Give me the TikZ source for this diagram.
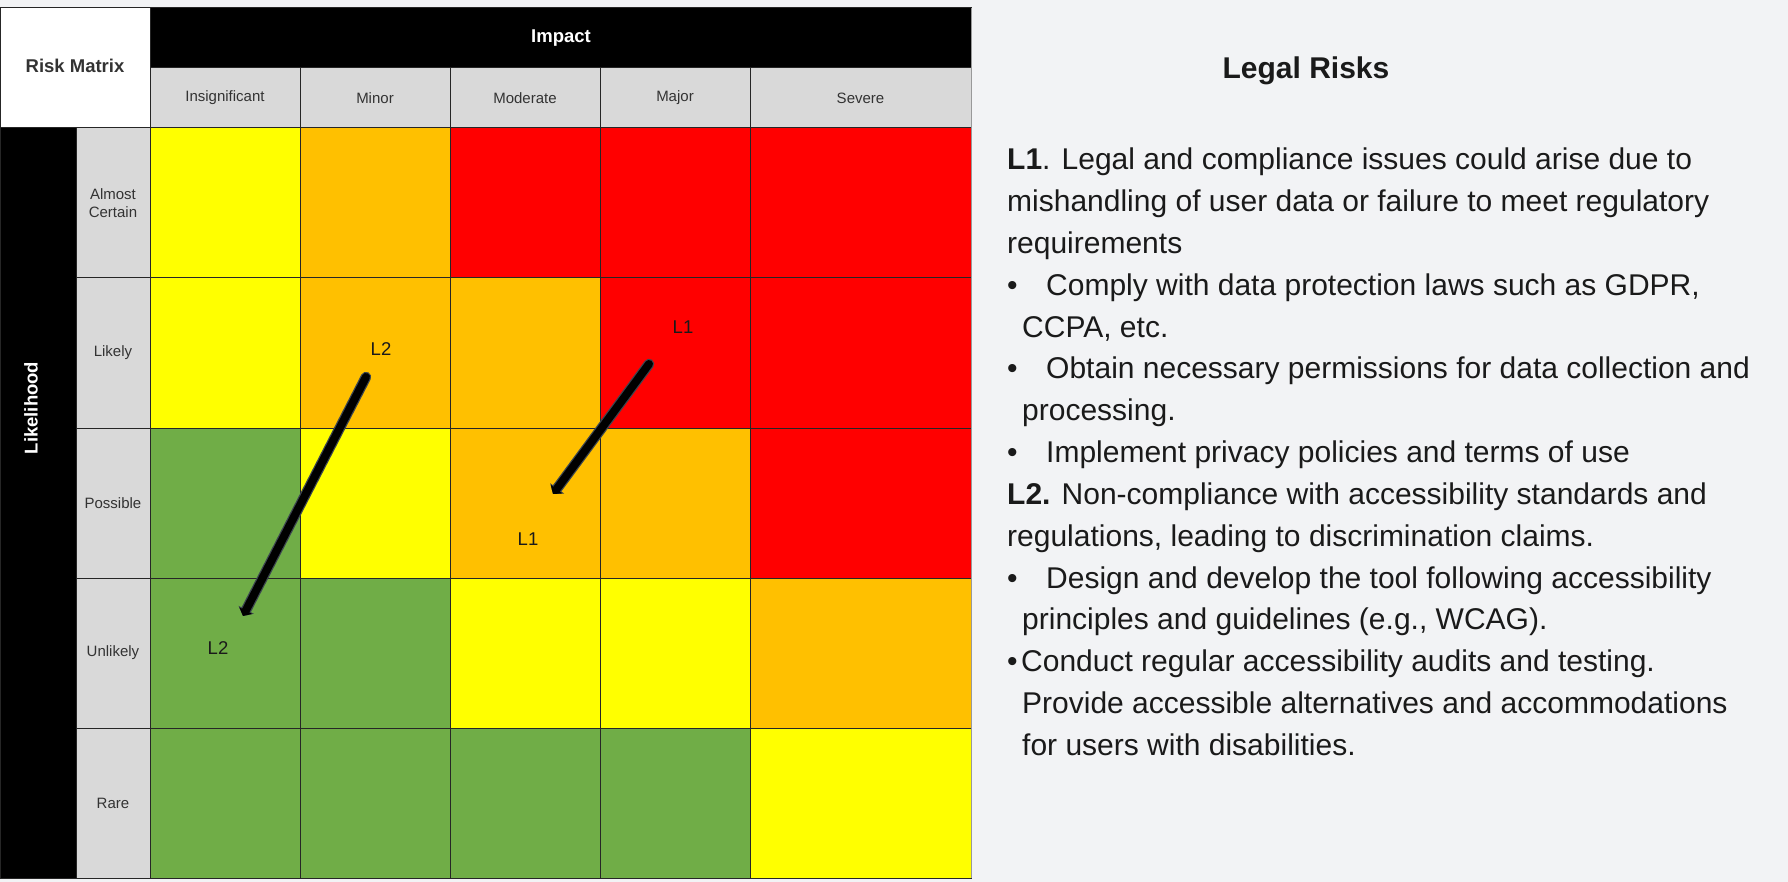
\documentclass[tikz,border=0pt]{standalone}
\usepackage{fontspec}
\setmainfont{Liberation Sans}
\usetikzlibrary{arrows.meta}
\definecolor{bg}{HTML}{F2F3F5}
\definecolor{cY}{HTML}{FFFF00}
\definecolor{cO}{HTML}{FFC000}
\definecolor{cR}{HTML}{FF0000}
\definecolor{cG}{HTML}{70AD47}
\definecolor{hdr}{HTML}{D9D9D9}
\definecolor{txt}{HTML}{1A1A1A}
\definecolor{lbl}{HTML}{333333}
\definecolor{gridc}{HTML}{262626}
\definecolor{arrowrim}{HTML}{3C4650}
\begin{document}
\begin{tikzpicture}[x=1pt,y=-1pt,
  cell/.style={draw=gridc, line width=1pt, inner sep=0pt, minimum height=150pt},
  hcell/.style={draw=gridc, line width=1pt, fill=hdr, inner sep=0pt, align=center,
     font=\fontsize{15}{18}\selectfont, text=lbl},
  blackbox/.style={draw=gridc, line width=1pt, fill=black, inner sep=0pt},
  risklbl/.style={inner sep=0pt, font=\fontsize{18.5}{22}\selectfont, text=txt},
  body/.style={anchor=base west, inner sep=0pt, font=\fontsize{30}{36}\selectfont, text=txt},
  riskarrow/.style={line width=8pt, black, line cap=round,
     -{Triangle[length=6pt,width=14pt]},
     preaction={draw=arrowrim, line width=10.5pt, line cap=round, -{Triangle[length=7pt,width=17pt]}}}
]
\useasboundingbox (0,0) rectangle (1788,882);
\fill[bg] (0,0) rectangle (1788,882);

% header
\node[draw=gridc, line width=1pt, fill=white, inner sep=0pt, minimum width=150pt, minimum height=120pt,
  font=\bfseries\fontsize{18.5}{22}\selectfont, text=lbl] (rm) at (75,68) {};
\node[inner sep=0pt, font=\bfseries\fontsize{18.5}{22}\selectfont, text=lbl] (rmt) at (75,65.5) {Risk Matrix};
\node[blackbox, minimum width=821pt, minimum height=60pt] (imp) at (560.5,38) {};
\node[inner sep=0pt, font=\bfseries\fontsize{18.5}{22}\selectfont, text=white] (impt) at (561,38.5) {Impact};

\node[hcell, minimum width=150pt, minimum height=60pt] (h1) at (225,98) {Insignificant};
\node[hcell, minimum width=150pt, minimum height=60pt] (h2) at (375,98) {Minor};
\node[hcell, minimum width=150pt, minimum height=60pt] (h3) at (525,98) {Moderate};
\node[hcell, minimum width=150pt, minimum height=60pt] (h4) at (675,98) {Major};
\node[hcell, minimum width=221pt, minimum height=60pt] (h5) at (860.5,98) {Severe};

% likelihood
\node[blackbox, minimum width=76pt, minimum height=750pt] (lik) at (38,503) {};
\node[inner sep=0pt, rotate=90, font=\bfseries\fontsize{18.5}{22}\selectfont, text=white] (likt) at (31,408) {Likelihood};

\node[hcell, minimum width=74pt, minimum height=150pt] (r1) at (113,203) {Almost\\Certain};
\node[hcell, minimum width=74pt, minimum height=150pt] (r2) at (113,353) {Likely};
\node[hcell, minimum width=74pt, minimum height=150pt] (r3) at (113,503) {Possible};
\node[hcell, minimum width=74pt, minimum height=150pt] (r4) at (113,653) {Unlikely};
\node[hcell, minimum width=74pt, minimum height=150pt] (r5) at (113,803) {Rare};

% matrix cells
\foreach \r/\a/\b/\c/\d/\e in {1/cY/cO/cR/cR/cR, 2/cY/cO/cO/cR/cR, 3/cG/cY/cO/cO/cR, 4/cG/cG/cY/cY/cO, 5/cG/cG/cG/cG/cY}{
  \pgfmathsetmacro{\yy}{203+150*(\r-1)}
  \node[cell, fill=\a, minimum width=150pt] (c\r-1) at (225,\yy) {};
  \node[cell, fill=\b, minimum width=150pt] (c\r-2) at (375,\yy) {};
  \node[cell, fill=\c, minimum width=150pt] (c\r-3) at (525,\yy) {};
  \node[cell, fill=\d, minimum width=150pt] (c\r-4) at (675,\yy) {};
  \node[cell, fill=\e, minimum width=221pt] (c\r-5) at (860.5,\yy) {};
}
\draw[gray!80, line width=1.5pt] (971.5,8) -- (971.5,878);

% arrows and labels
\coordinate (l2s) at (366,377);
\coordinate (l2e) at (243,616);
\coordinate (l1s) at (649,364);
\coordinate (l1e) at (553,494);
\draw[riskarrow] (l2s) -- (l2e);
\draw[riskarrow] (l1s) -- (l1e);
\node[risklbl] (l2a) at (381,349) {L2};
\node[risklbl] (l1a) at (683,327) {L1};
\node[risklbl] (l1b) at (528,539) {L1};
\node[risklbl] (l2b) at (218,648) {L2};

% right panel
\node[inner sep=0pt, font=\bfseries\fontsize{30}{36}\selectfont, text=txt] (title) at (1306,71) {Legal Risks};

\node[body] (t1) at (1007,170.0) {\textbf{L1}. Legal and compliance issues could arise due to};
\node[body] (t2) at (1007,211.8) {mishandling of user data or failure to meet regulatory};
\node[body] (t3) at (1007,253.6) {requirements};
\node[body] (b4) at (1007,295.4) {•};
\node[body] (t4) at (1046,295.4) {Comply with data protection laws such as GDPR,};
\node[body] (t5) at (1022,337.2) {CCPA, etc.};
\node[body] (b6) at (1007,379.0) {•};
\node[body] (t6) at (1046,379.0) {Obtain necessary permissions for data collection and};
\node[body] (t7) at (1022,420.8) {processing.};
\node[body] (b8) at (1007,462.6) {•};
\node[body] (t8) at (1046,462.6) {Implement privacy policies and terms of use};
\node[body] (t9) at (1007,504.4) {\textbf{L2.} Non-compliance with accessibility standards and};
\node[body] (t10) at (1007,546.2) {regulations, leading to discrimination claims.};
\node[body] (b11) at (1007,588.0) {•};
\node[body] (t11) at (1046,588.0) {Design and develop the tool following accessibility};
\node[body] (t12) at (1022,629.8) {principles and guidelines (e.g., WCAG).};
\node[body] (b13) at (1007,671.6) {•};
\node[body] (t13) at (1021,671.6) {Conduct regular accessibility audits and testing.};
\node[body] (t14) at (1022,713.4) {Provide accessible alternatives and accommodations};
\node[body] (t15) at (1022,755.2) {for users with disabilities.};
\end{tikzpicture}
\end{document}
